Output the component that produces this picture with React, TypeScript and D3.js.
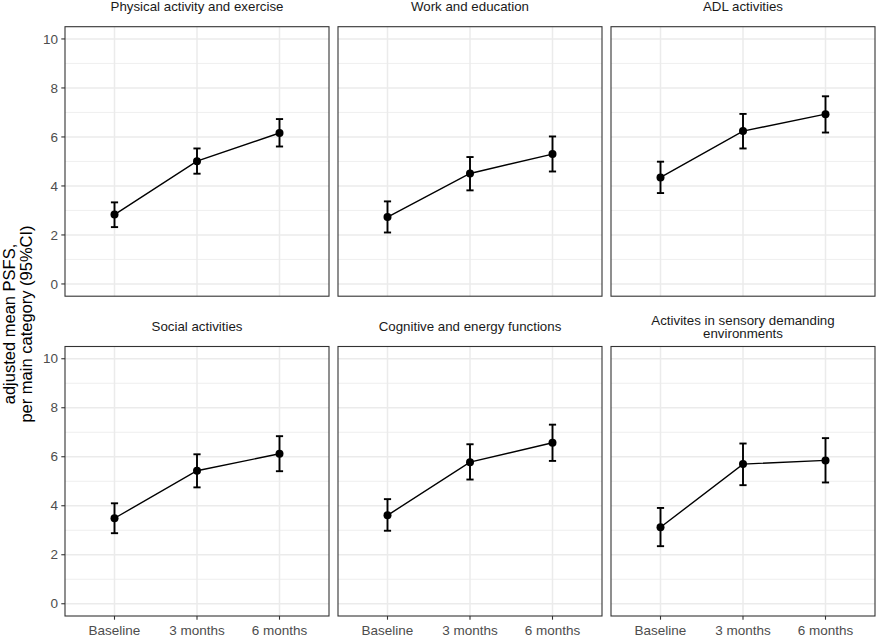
import React from "react";
import * as d3 from "d3";

// Time points on the x axis
const timepoints = ["Baseline", "3 months", "6 months"];

// Facet titles (line breaks where the strip wraps)
const panelTitles = [
  ["Physical activity and exercise"],
  ["Work and education"],
  ["ADL activities"],
  ["Social activities"],
  ["Cognitive and energy functions"],
  ["Activites in sensory demanding", "environments"],
];

// Adjusted mean PSFS per category at each time point
const meanValues = [
  [2.83, 5.01, 6.16],
  [2.73, 4.51, 5.3],
  [4.35, 6.24, 6.93],
  [3.49, 5.43, 6.12],
  [3.61, 5.78, 6.57],
  [3.12, 5.7, 5.85],
];

// Lower 95% CI bounds
const lowerCI = [
  [2.32, 4.5, 5.61],
  [2.1, 3.82, 4.59],
  [3.71, 5.53, 6.18],
  [2.88, 4.75, 5.41],
  [2.98, 5.07, 5.83],
  [2.35, 4.84, 4.95],
];

// Upper 95% CI bounds
const upperCI = [
  [3.33, 5.53, 6.73],
  [3.37, 5.18, 6.02],
  [4.99, 6.94, 7.66],
  [4.1, 6.1, 6.84],
  [4.27, 6.51, 7.31],
  [3.91, 6.54, 6.76],
];

const yTicks = [0, 2, 4, 6, 8, 10];
const yMinor = [1, 3, 5, 7, 9];

const W = 876;
const H = 639;
const FONT = "'Liberation Sans', Arial, Helvetica, sans-serif";

const colLeft = [65, 338, 611];
const rowTop = [26.7, 346.5];
const panelW = 264;
const panelH = 269.5;

const x = d3.scalePoint<string>().domain(timepoints).range([0, panelW]).padding(0.6);
const y = d3.scaleLinear().domain([-0.5, 10.5]).range([panelH, 0]);

const line = d3
  .line<number>()
  .x((_, i) => x(timepoints[i]) as number)
  .y((d) => y(d));

function Panel({ idx }: { idx: number }) {
  const col = idx % 3;
  const row = Math.floor(idx / 3);
  const left = colLeft[col];
  const top = rowTop[row];
  const title = panelTitles[idx];
  const showY = col === 0;
  const showX = row === 1;
  const lineH = 13.3;
  const titleCenter = -20;
  return (
    <g transform={`translate(${left},${top})`}>
      <rect x={0} y={0} width={panelW} height={panelH} fill="#fff" />
      {yMinor.map((v) => (
        <line key={`m${v}`} x1={0} x2={panelW} y1={y(v)} y2={y(v)} stroke="#ebebeb" strokeWidth={0.8} />
      ))}
      {yTicks.map((v) => (
        <line key={`g${v}`} x1={0} x2={panelW} y1={y(v)} y2={y(v)} stroke="#ebebeb" strokeWidth={1.5} />
      ))}
      {timepoints.map((t) => (
        <line key={`v${t}`} x1={x(t)} x2={x(t)} y1={0} y2={panelH} stroke="#ebebeb" strokeWidth={1.5} />
      ))}
      {/* confidence intervals */}
      {timepoints.map((t, i) => {
        const cx = x(t) as number;
        const y1 = y(upperCI[idx][i]);
        const y2 = y(lowerCI[idx][i]);
        return (
          <g key={`e${t}`} stroke="#000" strokeWidth={1.9} fill="none">
            <line x1={cx} x2={cx} y1={y1} y2={y2} />
            <line x1={cx - 3.6} x2={cx + 3.6} y1={y1} y2={y1} />
            <line x1={cx - 3.6} x2={cx + 3.6} y1={y2} y2={y2} />
          </g>
        );
      })}
      <path d={line(meanValues[idx]) as string} fill="none" stroke="#000" strokeWidth={1.4} />
      {timepoints.map((t, i) => (
        <circle key={`p${t}`} cx={x(t)} cy={y(meanValues[idx][i])} r={4} fill="#000" />
      ))}
      <rect x={0} y={0} width={panelW} height={panelH} fill="none" stroke="#333333" strokeWidth={1.1} />
      {/* strip title */}
      <text
        x={panelW / 2}
        textAnchor="middle"
        fontFamily={FONT}
        fontSize={13.3}
        fill="#1a1a1a"
      >
        {title.map((s, k) => (
          <tspan
            key={k}
            x={panelW / 2}
            y={titleCenter - ((title.length - 1) * lineH) / 2 + k * lineH + 4.7}
          >
            {s}
          </tspan>
        ))}
      </text>
      {showY &&
        yTicks.map((v) => (
          <g key={`yt${v}`}>
            <line x1={-3.7} x2={0} y1={y(v)} y2={y(v)} stroke="#333333" strokeWidth={1.1} />
            <text
              x={-7}
              y={y(v)}
              dy="0.35em"
              textAnchor="end"
              fontFamily={FONT}
              fontSize={13.5}
              fill="#4d4d4d"
            >
              {v}
            </text>
          </g>
        ))}
      {showX &&
        timepoints.map((t) => (
          <g key={`xt${t}`}>
            <line x1={x(t)} x2={x(t)} y1={panelH} y2={panelH + 3.7} stroke="#333333" strokeWidth={1.1} />
            <text
              x={x(t)}
              y={panelH + 18.5}
              textAnchor="middle"
              fontFamily={FONT}
              fontSize={13.5}
              fill="#4d4d4d"
            >
              {t}
            </text>
          </g>
        ))}
    </g>
  );
}

export default function App() {
  const yTitleCenter = 324;
  return (
    <svg
      width={W}
      height={H}
      viewBox={`0 0 ${W} ${H}`}
      style={{ position: "absolute", left: 0, top: 0, display: "block", background: "#fff" }}
    >
      <rect x={0} y={0} width={W} height={H} fill="#fff" />
      {panelTitles.map((_, i) => (
        <Panel key={i} idx={i} />
      ))}
      <text
        transform={`translate(0,${yTitleCenter}) rotate(-90)`}
        textAnchor="middle"
        fontFamily={FONT}
        fontSize={16.5}
        fill="#000"
      >
        <tspan x={0} y={14.5}>adjusted mean PSFS,</tspan>
        <tspan x={0} y={31.5}>per main category (95%CI)</tspan>
      </text>
    </svg>
  );
}
